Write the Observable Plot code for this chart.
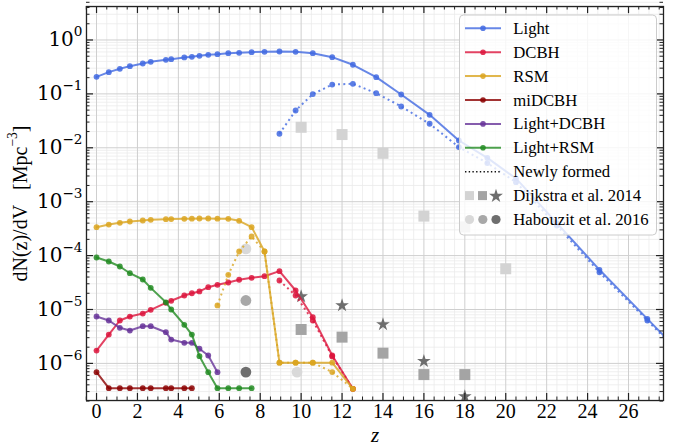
<!DOCTYPE html>
<html>
<head>
<meta charset="utf-8">
<script src="https://cdn.jsdelivr.net/npm/d3@7"></script>
<script src="https://cdn.jsdelivr.net/npm/@observablehq/plot@0.6"></script>
<style>
  html, body { margin: 0; padding: 0; background: #fff; }
  #chart { width: 676px; height: 446px; }
</style>
</head>
<body>
<div id="chart"></div>
<script>
// ---- Number density of black-hole seeds, dN(z)/dV, versus redshift ----

// Snapshot redshifts shared by the model runs
const zSnap = [0, 0.6, 1.14, 1.63, 2.26, 2.65, 3.39, 3.65, 4.29, 4.66, 5.03, 5.46, 5.91,
  6.44, 6.97, 7.58, 8.21, 8.94, 9.73, 10.57, 11.52, 12.53];

// Light seeds (all / newly formed)
const zLight = zSnap.concat([13.67, 14.89, 16.28, 17.71, 19.1, 20.5, 22.5, 24.58, 26.92, 29.3]);
const nLight = [0.207, 0.253, 0.292, 0.327, 0.366, 0.394, 0.429, 0.44, 0.474, 0.488, 0.509,
  0.531, 0.545, 0.569, 0.579, 0.594, 0.604, 0.612, 0.604, 0.569, 0.48, 0.347, 0.204, 0.0975,
  0.0409, 0.01365, 6.5e-3, 2.7e-3, 4.0e-4, 5.45e-5, 6.7e-6, 8.0e-7];
const zLightNew = [8.94, 9.73, 10.57, 11.52, 12.53, 13.67, 14.89, 16.28, 17.71, 19.1, 20.5,
  22.5, 24.58, 26.92, 29.3];
const nLightNew = [0.0182, 0.0492, 0.099, 0.149, 0.154, 0.103, 0.0584, 0.0279, 0.0103,
  5.2e-3, 2.3e-3, 3.6e-4, 4.9e-5, 6.25e-6, 7.6e-7];

// DCBH
const nDCBH = [1.73e-6, 3.43e-6, 6.25e-6, 7.4e-6, 8.4e-6, 9.87e-6, 1.33e-5, 1.45e-5, 1.82e-5,
  2.0e-5, 2.16e-5, 2.59e-5, 2.87e-5, 3.17e-5, 3.56e-5, 3.87e-5, 4.15e-5, 5.14e-5, 2.25e-5,
  7.2e-6, 1.4e-6, 3.38e-7];
const zDCBHNew = [8.94, 9.73, 10.57, 11.52, 12.53];
const nDCBHNew = [3.45e-5, 1.82e-5, 6.25e-6, 1.35e-6, 3.38e-7];

// RSM
const nRSM = [3.37e-4, 3.77e-4, 4.06e-4, 4.29e-4, 4.48e-4, 4.61e-4, 4.73e-4, 4.75e-4, 4.81e-4,
  4.85e-4, 4.88e-4, 4.88e-4, 4.85e-4, 4.81e-4, 4.42e-4, 3.37e-4, 1.19e-4, 1.03e-6, 1.03e-6,
  1.03e-6, 1.03e-6, 3.38e-7];
const zRSMNew = [5.91, 6.44, 6.97, 7.58, 8.21, 8.94, 9.73, 10.57, 11.52, 12.53];
const nRSMNew = [1.19e-5, 4.4e-5, 1.19e-4, 2.26e-4, 1.19e-4, 1.03e-6, 1.03e-6, 1.03e-6,
  6.9e-7, 3.38e-7];

// miDCBH
const zMi = zSnap.slice(0, 10);
const nMi = [6.87e-7, 3.47e-7, 3.47e-7, 3.47e-7, 3.47e-7, 3.47e-7, 3.47e-7, 3.47e-7, 3.47e-7, 3.47e-7];

// Light+DCBH
const zLD = zSnap.slice(0, 13);
const nLD = [7.41e-6, 6.25e-6, 4.57e-6, 4.07e-6, 4.9e-6, 4.9e-6, 3.79e-6, 2.77e-6, 2.41e-6,
  2.41e-6, 1.87e-6, 1.4e-6, 6.87e-7];

// Light+RSM
const zLR = zSnap.slice(0, 16);
const nLR = [9.22e-5, 7.77e-5, 6.28e-5, 4.71e-5, 3.6e-5, 2.52e-5, 1.36e-5, 1.0e-5, 5.2e-6,
  3.43e-6, 1.36e-6, 6.87e-7, 3.47e-7, 3.47e-7, 3.47e-7, 3.47e-7];

// Literature estimates
const zDijkLight = [10, 12, 14, 16, 18, 20];
const nDijkLight = [0.024, 0.0176, 7.9e-3, 5.4e-4, 3.4e-4, 5.7e-5];
const zDijkMid = [10, 12, 14, 16, 18];
const nDijkMid = [4.26e-6, 3.07e-6, 1.55e-6, 6.2e-7, 6.2e-7];
const zDijkStar = [10, 12, 14, 16, 18];
const nDijkStar = [1.74e-5, 1.19e-5, 5.3e-6, 1.1e-6, 2.44e-7];
const zHabLight = [7.3, 9.8];
const nHabLight = [1.33e-4, 6.9e-7];
const zHabMid = [7.3];
const nHabMid = [1.47e-5];
const zHabDark = [7.3];
const nHabDark = [6.9e-7];

// Axis ticks
const xMajor = d3.range(0, 27, 2);
const xMinor = d3.range(-0.5, 28, 0.5).filter(v => v % 2 !== 0);
const yMajor = [1e-6, 1e-5, 1e-4, 1e-3, 1e-2, 1e-1, 1];
const yMinor = d3.range(-7, 1).flatMap(k => d3.range(2, 10).map(m => m * 10 ** k));

// Series styling
const series = [
  {name: "Light", color: "#4169e1", z: zLight, n: nLight, zNew: zLightNew, nNew: nLightNew},
  {name: "DCBH", color: "#dc143c", z: zSnap, n: nDCBH, zNew: zDCBHNew, nNew: nDCBHNew},
  {name: "RSM", color: "#daa520", z: zSnap, n: nRSM, zNew: zRSMNew, nNew: nRSMNew},
  {name: "miDCBH", color: "#8b0000", z: zMi, n: nMi},
  {name: "Light+DCBH", color: "#663399", z: zLD, n: nLD},
  {name: "Light+RSM", color: "#228b22", z: zLR, n: nLR}
];

const rows = (zs, ns) => zs.map((z, i) => ({z, n: ns[i]}));

const W = 676, H = 446, ML = 86, MR = 13, MT = 6, MB = 46;
const FW = W - ML - MR, FH = H - MT - MB;
const SERIF = "Liberation Serif, Times New Roman, serif";

const seriesMarks = series.flatMap(s => {
  const all = rows(s.z, s.n);
  const marks = [
    Plot.line(all, {x: "z", y: "n", stroke: s.color, strokeWidth: 2, strokeOpacity: 0.8, clip: true}),
    Plot.dot(all, {x: "z", y: "n", r: 2.9, fill: s.color, fillOpacity: 0.85, clip: true})
  ];
  if (s.zNew) {
    const nw = rows(s.zNew, s.nNew);
    marks.push(
      Plot.line(nw, {x: "z", y: "n", stroke: s.color, strokeWidth: 2, strokeOpacity: 0.8,
        strokeDasharray: "2,3.3", strokeLinecap: "butt", clip: true}),
      Plot.dot(nw, {x: "z", y: "n", r: 2.9, fill: s.color, fillOpacity: 0.85, clip: true})
    );
  }
  return marks;
});

const obs = (zs, ns, symbol, r, fill) =>
  Plot.dot(rows(zs, ns), {x: "z", y: "n", symbol, r, fill, stroke: "none", clip: true});

const chart = Plot.plot({
  width: W, height: H,
  marginLeft: ML, marginRight: MR, marginTop: MT, marginBottom: MB,
  style: {fontFamily: SERIF, background: "white", color: "black"},
  x: {domain: [-0.49, 27.71]},
  y: {type: "log", domain: [2.05e-7, 4.18]},
  marks: [
    // grid
    Plot.ruleX(xMinor, {stroke: "#ebebeb", strokeWidth: 0.8}),
    Plot.ruleY(yMinor, {stroke: "#ebebeb", strokeWidth: 0.8}),
    Plot.ruleX(xMajor, {stroke: "#cfcfcf", strokeWidth: 1}),
    Plot.ruleY(yMajor, {stroke: "#cfcfcf", strokeWidth: 1}),
    // literature points
    obs(zDijkLight, nDijkLight, "square", 6.2, "#d3d3d3"),
    obs(zDijkMid, nDijkMid, "square", 6.2, "#a4a4a4"),
    obs(zDijkStar, nDijkStar, "star", 4.3, "#6e6e6e"),
    obs(zHabLight, nHabLight, "circle", 5.4, "#d9d9d9"),
    obs(zHabMid, nHabMid, "circle", 5.4, "#a8a8a8"),
    obs(zHabDark, nHabDark, "circle", 5.4, "#6e6e6e"),
    // model curves
    ...seriesMarks,
    // inward ticks on all four sides
    Plot.ruleX(xMajor, {insetTop: FH - 7, stroke: "#222", strokeWidth: 1.2}),
    Plot.ruleX(xMajor, {insetBottom: FH - 7, stroke: "#222", strokeWidth: 1.2}),
    Plot.ruleX(xMinor, {insetTop: FH - 3.5, stroke: "#222", strokeWidth: 1}),
    Plot.ruleX(xMinor, {insetBottom: FH - 3.5, stroke: "#222", strokeWidth: 1}),
    Plot.ruleY(yMajor, {insetRight: FW - 7, stroke: "#222", strokeWidth: 1.2}),
    Plot.ruleY(yMajor, {insetLeft: FW - 7, stroke: "#222", strokeWidth: 1.2}),
    Plot.ruleY(yMinor, {insetRight: FW - 3.5, stroke: "#222", strokeWidth: 1}),
    Plot.ruleY(yMinor, {insetLeft: FW - 3.5, stroke: "#222", strokeWidth: 1}),
    Plot.frame({stroke: "#222", strokeWidth: 1.3}),
    // tick labels
    Plot.axisX({ticks: xMajor, tickSize: 0, tickPadding: 3, fontSize: 20, label: null,
      tickFormat: d => String(d)}),
    Plot.axisY({ticks: yMajor, tickSize: 0, tickPadding: 4, fontSize: 20, label: null,
      fontFamily: "DejaVu Serif",
      tickFormat: d => { const e = Math.round(Math.log10(d)); return `10^{${e < 0 ? "\u2212" + (-e) : e}}`; }}),
    // axis titles
    Plot.text(["z"], {text: d => d, frameAnchor: "bottom", lineAnchor: "middle", textAnchor: "middle",
      dy: 35, fontSize: 21, fontStyle: "italic"}),
    Plot.text(["dN(z)/dV\u00a0\u00a0\u00a0[Mpc^{\u22123}]"], {text: d => d, frameAnchor: "left",
      textAnchor: "middle", lineAnchor: "middle", dx: -66, rotate: -90, fontSize: 20})
  ]
});

// Turn "^{...}" into raised, smaller tspans
function superscripts(node, base) {
  const s = node.textContent;
  if (!s.includes("^{")) return;
  node.textContent = "";
  const sel = d3.select(node);
  const re = /\^\{([^}]*)\}/g;
  let last = 0, m, raised = false;
  const rise = base * 0.5, small = base * 0.68;
  while ((m = re.exec(s))) {
    if (m.index > last) {
      sel.append("tspan").attr("dy", raised ? rise : 0).text(s.slice(last, m.index));
      raised = false;
    }
    sel.append("tspan").attr("dy", raised ? 0 : -rise).attr("font-size", small).text(m[1]);
    raised = true;
    last = re.lastIndex;
  }
  if (last < s.length) sel.append("tspan").attr("dy", raised ? rise : 0).text(s.slice(last));
}
d3.select(chart).selectAll("text").each(function() { superscripts(this, 20); });

// Legend drawn inside the frame
const legendItems = series.map(s => ({label: s.name, kind: "line", color: s.color}))
  .concat([
    {label: "Newly formed", kind: "dotted"},
    {label: "Dijkstra et al. 2014", kind: "dijkstra"},
    {label: "Habouzit et al. 2016", kind: "habouzit"}
  ]);
const lg = d3.select(chart).append("g").attr("font-family", SERIF).attr("font-size", 16.7)
  .attr("text-anchor", "start");
lg.append("rect").attr("x", 459.5).attr("y", 15).attr("width", 197).attr("height", 220)
  .attr("rx", 4).attr("fill", "white").attr("fill-opacity", 0.8)
  .attr("stroke", "#cccccc").attr("stroke-width", 1);
legendItems.forEach((it, i) => {
  const y = 28.3 + i * 23.9;
  const g = lg.append("g").attr("transform", `translate(0,${y})`);
  if (it.kind === "line") {
    g.append("line").attr("x1", 465).attr("x2", 501).attr("stroke", it.color)
      .attr("stroke-width", 2).attr("stroke-opacity", 0.8);
    g.append("circle").attr("cx", 483).attr("r", 2.8).attr("fill", it.color).attr("fill-opacity", 0.85);
  } else if (it.kind === "dotted") {
    g.append("line").attr("x1", 465).attr("x2", 501).attr("stroke", "#111")
      .attr("stroke-width", 1.4).attr("stroke-dasharray", "1.4,2.3");
  } else if (it.kind === "dijkstra") {
    g.append("rect").attr("x", 465).attr("y", -4.5).attr("width", 9).attr("height", 9).attr("fill", "#d3d3d3");
    g.append("rect").attr("x", 478).attr("y", -4.5).attr("width", 9).attr("height", 9).attr("fill", "#a4a4a4");
    g.append("path").attr("transform", "translate(496,0.5)")
      .attr("d", d3.symbol(d3.symbolStar, 60)()).attr("fill", "#6e6e6e");
  } else {
    [["#d9d9d9", 469.5], ["#a8a8a8", 482.8], ["#6e6e6e", 496]].forEach(([c, cx]) =>
      g.append("circle").attr("cx", cx).attr("r", 4.6).attr("fill", c));
  }
  g.append("text").attr("x", 513.3).attr("dy", "0.33em").text(it.label);
});

document.getElementById("chart").appendChild(chart);
</script>
</body>
</html>
